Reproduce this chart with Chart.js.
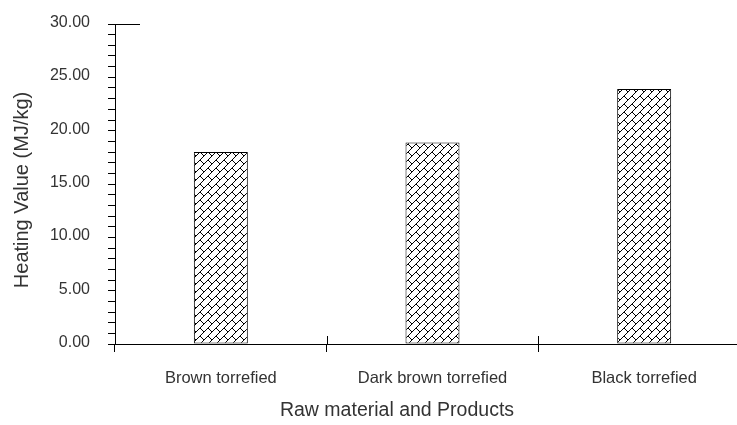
<!DOCTYPE html>
<html>
<head>
<meta charset="utf-8">
<script src="https://cdn.jsdelivr.net/npm/chart.js@4"></script>
<style>
  html, body { margin: 0; padding: 0; width: 737px; height: 425px; overflow: hidden; background: #fff; }
  #wrap { position: relative; width: 752px; height: 425px; }
</style>
</head>
<body>
<div id="wrap"><canvas id="c"></canvas></div>
<script>
// Heating value of torrefied products
const categories = ['Brown torrefied', 'Dark brown torrefied', 'Black torrefied'];
const heatingValues = [18.0, 18.9, 23.9];
const yMin = 0;
const yMax = 30;
const yStep = 1;          // minor tick spacing
const yLabelEvery = 5;    // labelled tick spacing
const xTitle = 'Raw material and Products';
const yTitle = 'Heating Value (MJ/kg)';

// Diagonal brick hatch used to fill the bars
function brickPattern() {
  const s = 8;
  const t = document.createElement('canvas');
  t.width = s; t.height = s;
  const g = t.getContext('2d');
  g.fillStyle = '#fff';
  g.fillRect(0, 0, s, s);
  g.strokeStyle = '#000';
  g.lineWidth = 1;
  g.beginPath();
  g.moveTo(-1, s + 1); g.lineTo(s + 1, -1);          // mortar line "/"
  g.moveTo(-1, 1); g.lineTo(1, -1);                  // wrapped corners
  g.moveTo(s - 1, s + 1); g.lineTo(s + 1, s - 1);
  g.moveTo(0, 0); g.lineTo(s / 2, s / 2);            // joint "\"
  g.stroke();
  return g.createPattern(t, 'repeat');
}

const ctx = document.getElementById('c').getContext('2d');
const fill = brickPattern();
const textColor = '#333';
const family = "'Liberation Sans', Arial, sans-serif";

// Short upward ticks at the category boundaries, the top stub of the value axis,
// and the two axis titles
const axisExtras = {
  id: 'axisExtras',
  afterDraw(chart) {
    const xs = chart.scales.x;
    const ys = chart.scales.y;
    const area = chart.chartArea;
    const c = chart.ctx;
    c.save();
    c.strokeStyle = '#000';
    c.lineWidth = 1;
    c.beginPath();
    for (let i = 1; i <= categories.length; i++) {
      const px = Math.round(xs.getPixelForValue(i - 0.5)) + 0.5;
      c.moveTo(px, area.bottom);
      c.lineTo(px, area.bottom - 8);
    }
    const yTop = Math.round(ys.getPixelForValue(yMax)) + 0.5;
    c.moveTo(area.left, yTop);
    c.lineTo(area.left + 25, yTop);
    c.stroke();

    c.fillStyle = textColor;
    c.textAlign = 'center';
    c.textBaseline = 'middle';
    c.font = '19.5px ' + family;
    c.fillText(xTitle, 397, 411);
    c.font = '20px ' + family;
    c.translate(22, 190);
    c.rotate(-Math.PI / 2);
    c.fillText(yTitle, 0, 0);
    c.restore();
  }
};

new Chart(ctx, {
  type: 'bar',
  data: {
    labels: categories,
    datasets: [{
      data: heatingValues,
      backgroundColor: fill,
      borderColor: '#000',
      borderWidth: 1,
      borderSkipped: false,
      categoryPercentage: 1,
      barPercentage: 0.255
    }]
  },
  options: {
    responsive: true,
    maintainAspectRatio: false,
    animation: false,
    events: [],
    layout: { padding: { top: 24, right: 2, bottom: 0, left: 0 } },
    plugins: { legend: { display: false }, tooltip: { enabled: false } },
    scales: {
      x: {
        offset: true,
        grid: {
          display: true,
          offset: true,
          drawOnChartArea: false,
          drawTicks: true,
          tickLength: 8,
          color: '#000',
          lineWidth: 1
        },
        border: { display: true, color: '#000', width: 1 },
        ticks: {
          color: textColor,
          font: { family, size: 16.5 },
          padding: 17,
          maxRotation: 0,
          autoSkip: false
        },
        afterFit(scale) { scale.height = 81; }
      },
      y: {
        min: yMin,
        max: yMax,
        grid: {
          display: true,
          drawOnChartArea: false,
          drawTicks: true,
          tickLength: 7,
          color: '#000',
          lineWidth: 1
        },
        border: { display: true, color: '#000', width: 1 },
        ticks: {
          stepSize: yStep,
          autoSkip: false,
          color: textColor,
          font: { family, size: 16 },
          padding: 18,
          labelOffset: -1.5,
          callback(v) { return v % yLabelEvery === 0 ? Number(v).toFixed(2) : ''; }
        },
        afterFit(scale) {
          scale.width = 115;
          scale.paddingTop = 0;
          scale.paddingBottom = 0;
        }
      }
    }
  },
  plugins: [axisExtras]
});
</script>
</body>
</html>
